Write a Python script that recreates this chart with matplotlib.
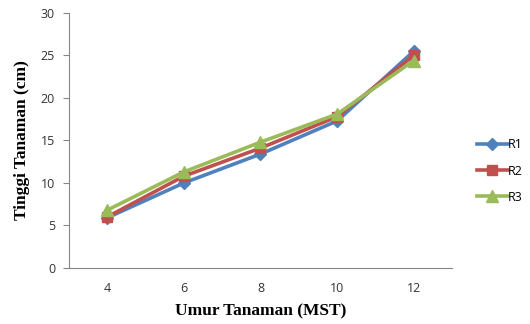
import matplotlib
matplotlib.use("Agg")
import matplotlib.pyplot as plt

categories = ["4", "6", "8", "10", "12"]
r1 = [5.9, 10.0, 13.4, 17.3, 25.5]
r2 = [6.0, 10.8, 14.1, 17.8, 25.0]
r3 = [6.8, 11.3, 14.8, 18.1, 24.4]
series_names = ["R1", "R2", "R3"]
yticks = [0, 5, 10, 15, 20, 25, 30]

fig = plt.figure(figsize=(5.3, 3.24), dpi=100)
ax = fig.add_axes([0.130, 0.173, 0.723, 0.787])

x = list(range(len(categories)))
styles = [("#4F81BD", "D", 6), ("#C0504D", "s", 7), ("#9BBB59", "^", 8)]
for vals, name, (c, m, ms) in zip([r1, r2, r3], series_names, styles):
    ax.plot(x, vals, color=c, marker=m, markersize=ms, linewidth=2.6, label=name)

ax.set_xlim(-0.5, len(categories) - 0.5)
ax.set_ylim(0, 30)
ax.set_yticks(yticks)
ax.set_xticks(x)
ax.set_xticklabels(categories)
for s in ["top", "right"]:
    ax.spines[s].set_visible(False)
for s in ["left", "bottom"]:
    ax.spines[s].set_color("#868686")
ax.tick_params(axis="y", colors="#868686", labelcolor="#333333", length=4, labelsize=9, pad=6)
ax.tick_params(axis="x", length=0, labelcolor="#333333", labelsize=9, pad=10)
for lab in ax.get_xticklabels() + ax.get_yticklabels():
    lab.set_family("Open Sans")

ax.set_xlabel("Umur Tanaman (MST)", family="Liberation Serif", fontweight="bold", fontsize=12.5, labelpad=6)
ax.set_ylabel("Tinggi Tanaman (cm)", family="Liberation Serif", fontweight="bold", fontsize=12.5, labelpad=8)

leg = ax.legend(loc="center left", bbox_to_anchor=(1.035, 0.38), frameon=False,
                prop={"family": "Open Sans", "size": 9}, handlelength=2.5,
                handletextpad=0.0, labelspacing=1.05)

fig.savefig("out.png", dpi=100)
